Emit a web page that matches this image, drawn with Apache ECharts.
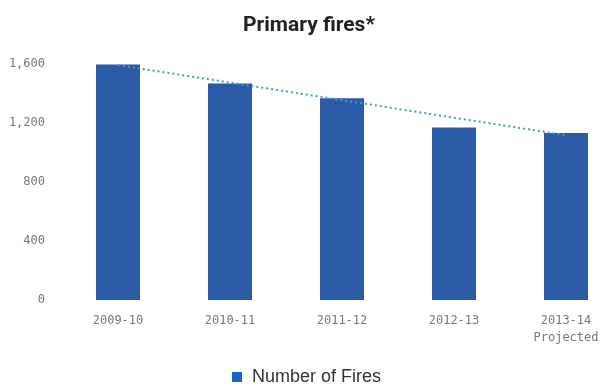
<!DOCTYPE html>
<html><head><meta charset="utf-8">
<script src="https://cdn.jsdelivr.net/npm/echarts@6/dist/echarts.min.js"></script>
<style>html,body{margin:0;padding:0;background:#fff;overflow:hidden}#c{width:625px;height:392px}</style>
</head><body><div id="c"></div>
<script>
var categories = ['2009-10', '2010-11', '2011-12', '2012-13', '2013-14\nProjected'];
var fires = [1597, 1468, 1368, 1169, 1132];
var trend = [1593, 1474, 1355, 1236, 1117];
var yTicks = [0, 400, 800, 1200, 1600];

var chart = echarts.init(document.getElementById('c'));
chart.setOption({
  animation: false,
  backgroundColor: '#fff',
  title: {
    text: 'Primary fires*', left: 304, top: 10, textAlign: 'center',
    textStyle: { fontFamily: 'Roboto', fontWeight: 'bold', fontSize: 21, color: '#222' }
  },
  legend: {
    data: [{ name: 'Number of Fires', itemStyle: { color: '#1a66c6' } }],
    bottom: 1, left: 227, icon: 'rect', itemWidth: 10, itemHeight: 10, itemGap: 10,
    textStyle: { fontFamily: 'Liberation Sans', fontSize: 18, color: '#333', padding: [0, 0, 0, 5] }
  },
  grid: { left: 62, top: 64, bottom: 92, width: 560 },
  xAxis: {
    type: 'category', data: categories,
    axisLine: { show: false }, axisTick: { show: false },
    axisLabel: { margin: 12, lineHeight: 17, fontFamily: 'DejaVu Sans Mono', fontSize: 12, color: '#777' }
  },
  yAxis: {
    type: 'value', min: yTicks[0], max: yTicks[yTicks.length - 1], interval: 400,
    splitLine: { show: false }, axisLine: { show: false }, axisTick: { show: false },
    axisLabel: { margin: 17, fontFamily: 'DejaVu Sans Mono', fontSize: 12, color: '#777',
      formatter: function (v) { return v.toLocaleString('en-US'); } }
  },
  series: [
    { name: 'Number of Fires', type: 'bar', data: fires, barWidth: 44,
      itemStyle: { color: '#2b5aa7' } },
    { name: 'Trend', type: 'line', data: trend, symbol: 'none', z: 3,
      lineStyle: { type: [2, 3], color: '#3d9be0', width: 2 } }
  ]
});
</script></body></html>
